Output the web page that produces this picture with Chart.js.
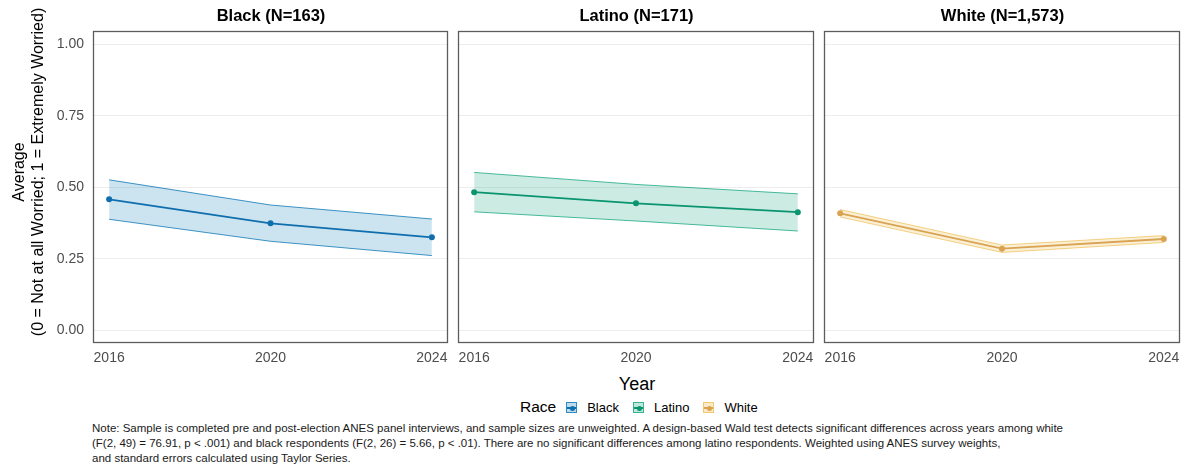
<!DOCTYPE html>
<html>
<head>
<meta charset="utf-8">
<script src="https://cdn.jsdelivr.net/npm/chart.js@4.4.1/dist/chart.umd.min.js"></script>
<style>
  html, body { margin: 0; padding: 0; background: #fff; }
  body { font-family: "Liberation Sans", Arial, Helvetica, sans-serif; color: #000; }
  #wrap { position: relative; width: 1188px; height: 468px; overflow: hidden; }
  canvas.panel { position: absolute; top: 0; }
  .ptitle { position: absolute; top: 6px; font-size: 16.5px; font-weight: bold; text-align: center; white-space: nowrap; line-height: 19px; }
  #ytitle { position: absolute; left: 28px; top: 172px; width: 400px; margin-left: -200px; margin-top: -19px;
            transform: rotate(-90deg); text-align: center; font-size: 16px; line-height: 19px; white-space: nowrap; }
  #xtitle { position: absolute; top: 374px; left: 0; width: 1274px; text-align: center; font-size: 18px; line-height: 20px; }
  #legend { position: absolute; top: 398px; left: 520px; height: 18px; display: flex; align-items: center; font-size: 13px; white-space: nowrap; }
  #legend .ltitle { font-size: 15.5px; margin-right: 10px; }
  #legend .key { position: relative; width: 11px; height: 11px; margin-right: 10px; box-sizing: border-box; }
  #legend .key .ln { position: absolute; left: 0; right: 0; top: 4.5px; height: 1.5px; }
  #legend .key .dt { position: absolute; left: 3px; top: 3px; width: 5px; height: 5px; border-radius: 50%; }
  #legend .lab { margin-right: 14px; }
  #note { position: absolute; left: 92px; top: 421px; font-size: 11.5px; line-height: 15px; color: #1a1a1a; white-space: nowrap; }
</style>
</head>
<body>
<div id="wrap">
  <canvas id="c0" class="panel"></canvas>
  <canvas id="c1" class="panel"></canvas>
  <canvas id="c2" class="panel"></canvas>
  <div id="ytitle">Average<br>(0 = Not at all Worried; 1 = Extremely Worried)</div>
  <div id="xtitle">Year</div>
  <div id="legend"></div>
  <div id="note">Note: Sample is completed pre and post-election ANES panel interviews, and sample sizes are unweighted. A design-based Wald test detects significant differences across years among white<br>(F(2, 49) = 76.91, p &lt; .001) and black respondents (F(2, 26) = 5.66, p &lt; .01). There are no significant differences among latino respondents. Weighted using ANES survey weights,<br>and standard errors calculated using Taylor Series.</div>
</div>
<script>
// Survey waves and groups
const years = [2016, 2020, 2024];
const groups = ['Black', 'Latino', 'White'];
const sampleSizes = ['163', '171', '1,573'];

// Weighted averages with 95% confidence bounds, by wave
const blackMean  = [0.458, 0.374, 0.325];
const blackLower = [0.388, 0.311, 0.261];
const blackUpper = [0.526, 0.438, 0.389];

const latinoMean  = [0.483, 0.444, 0.413];
const latinoLower = [0.414, 0.382, 0.347];
const latinoUpper = [0.552, 0.510, 0.477];

const whiteMean  = [0.409, 0.285, 0.319];
const whiteLower = [0.396, 0.272, 0.307];
const whiteUpper = [0.422, 0.298, 0.331];

const yTicks = [0, 0.25, 0.5, 0.75, 1];

const FONT = '"Liberation Sans", Arial, Helvetica, sans-serif';

const palette = {
  Black:  { line: '#0f6fae', edge: 'rgba(0,114,178,0.75)', fill: 'rgba(0,114,178,0.20)', key: 'rgba(0,114,178,0.25)' },
  Latino: { line: '#0a9470', edge: 'rgba(0,158,115,0.70)', fill: 'rgba(0,158,115,0.20)', key: 'rgba(0,158,115,0.25)' },
  White:  { line: '#d9a352', edge: 'rgba(230,159,0,0.45)', fill: 'rgba(230,159,0,0.16)', key: 'rgba(230,159,0,0.22)' }
};

const series = {
  Black:  { mean: blackMean,  lower: blackLower,  upper: blackUpper },
  Latino: { mean: latinoMean, lower: latinoLower, upper: latinoUpper },
  White:  { mean: whiteMean,  lower: whiteLower,  upper: whiteUpper }
};

// Facet geometry: plot frame of each panel
const frames = [
  { left: 93,  right: 449 },
  { left: 458, right: 815 },
  { left: 824, right: 1181 }
];
const FRAME_TOP = 31, FRAME_BOTTOM = 343, XAXIS_H = 24;

const framePlugin = {
  id: 'panelFrame',
  afterDraw(chart) {
    const { ctx, chartArea: a } = chart;
    ctx.save();
    ctx.strokeStyle = '#5c5c5c';
    ctx.lineWidth = 1.3;
    ctx.strokeRect(a.left + 0.5, a.top + 0.5, a.right - a.left - 1, a.bottom - a.top - 1);
    ctx.restore();
  }
};

const pts = arr => years.map((x, i) => ({ x, y: arr[i] }));

groups.forEach((g, i) => {
  const f = frames[i];
  const axisW = i === 0 ? 93 : 6;
  const canvasLeft = f.left - axisW;
  const width = f.right - canvasLeft + 3;
  const height = FRAME_BOTTOM + XAXIS_H;
  const cv = document.getElementById('c' + i);
  cv.style.left = canvasLeft + 'px';
  cv.width = width; cv.height = height;
  cv.style.width = width + 'px'; cv.style.height = height + 'px';

  const c = palette[g], s = series[g];

  const title = document.createElement('div');
  title.className = 'ptitle';
  title.style.left = f.left + 'px';
  title.style.width = (f.right - f.left) + 'px';
  title.textContent = g + ' (N=' + sampleSizes[i] + ')';
  document.getElementById('wrap').appendChild(title);

  new Chart(cv, {
    type: 'line',
    data: {
      datasets: [
        { data: pts(s.lower), borderColor: c.edge, borderWidth: 1, pointRadius: 0, fill: false, tension: 0, order: 3 },
        { data: pts(s.upper), borderColor: c.edge, borderWidth: 1, pointRadius: 0, fill: '-1', backgroundColor: c.fill, tension: 0, order: 2 },
        { data: pts(s.mean), borderColor: c.line, borderWidth: 1.8, pointRadius: 3, pointBackgroundColor: c.line,
          pointBorderWidth: 0, fill: false, tension: 0, order: 1 }
      ]
    },
    options: {
      responsive: false,
      animation: false,
      devicePixelRatio: 1,
      layout: { padding: { left: 0, right: 3, top: FRAME_TOP, bottom: 0 } },
      plugins: { legend: { display: false }, tooltip: { enabled: false }, title: { display: false } },
      scales: {
        x: {
          type: 'linear', min: 2015.6, max: 2024.4,
          afterBuildTicks: sc => { sc.ticks = years.map(v => ({ value: v })); },
          afterFit: sc => { sc.height = XAXIS_H; sc.paddingLeft = 0; sc.paddingRight = 0; },
          ticks: { callback: v => String(v), color: '#4d4d4d', font: { family: FONT, size: 14 }, padding: 7, maxRotation: 0, autoSkip: false },
          grid: { display: false, drawTicks: false },
          border: { display: false }
        },
        y: {
          min: -0.045, max: 1.047,
          afterBuildTicks: sc => { sc.ticks = yTicks.map(v => ({ value: v })); },
          afterFit: sc => { sc.width = axisW; sc.paddingTop = 0; sc.paddingBottom = 0; },
          ticks: { display: i === 0, callback: v => v.toFixed(2), color: '#4d4d4d', font: { family: FONT, size: 14 }, padding: 9 },
          grid: { color: '#ededed', lineWidth: 1, drawTicks: false },
          border: { display: false }
        }
      }
    },
    plugins: [framePlugin]
  });
});

// Legend for the Race fill / colour mapping
const legend = document.getElementById('legend');
const lt = document.createElement('span');
lt.className = 'ltitle'; lt.textContent = 'Race';
legend.appendChild(lt);
groups.forEach(g => {
  const c = palette[g];
  const key = document.createElement('span');
  key.className = 'key';
  key.style.background = c.key;
  key.style.border = '1px solid ' + c.edge;
  const ln = document.createElement('span'); ln.className = 'ln'; ln.style.background = c.line;
  const dt = document.createElement('span'); dt.className = 'dt'; dt.style.background = c.line;
  key.appendChild(ln); key.appendChild(dt);
  const lab = document.createElement('span');
  lab.className = 'lab'; lab.textContent = g;
  legend.appendChild(key); legend.appendChild(lab);
});
</script>
</body>
</html>
